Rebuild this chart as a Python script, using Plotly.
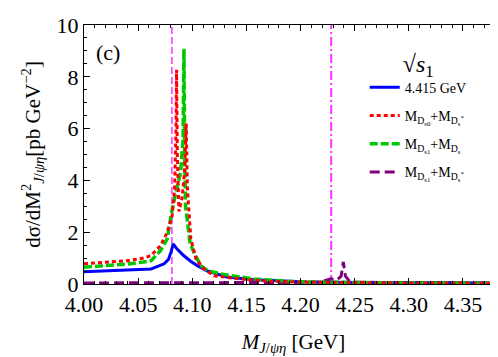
import plotly.graph_objects as go

# ---- data ----
blue_x = [4.000, 4.020, 4.040, 4.062, 4.074, 4.078, 4.0805, 4.0824, 4.086, 4.092, 4.0985, 4.1046,
          4.114, 4.132, 4.157, 4.188, 4.206, 4.25, 4.30, 4.35, 4.387]
blue_y = [0.47, 0.50, 0.53, 0.58, 0.78, 0.95, 1.25, 1.55, 1.35, 1.10, 0.88, 0.71,
          0.50, 0.27, 0.16, 0.10, 0.08, 0.06, 0.05, 0.04, 0.04]

red_x = [4.000, 4.020, 4.040, 4.055, 4.062, 4.0706, 4.0769, 4.0815, 4.0837, 4.0850, 4.0855,
         4.0862, 4.0877, 4.0905, 4.0928, 4.0944, 4.0955, 4.0987, 4.1034, 4.111, 4.120, 4.145,
         4.173, 4.21, 4.25, 4.30, 4.387]
red_y = [0.78, 0.83, 0.90, 1.00, 1.10, 1.48, 2.00, 2.65, 3.70, 6.00, 8.27,
         5.00, 2.80, 3.30, 4.30, 6.20, 3.70, 1.74, 0.97, 0.58, 0.32, 0.19,
         0.10, 0.07, 0.05, 0.04, 0.03]

green_x = [4.000, 4.020, 4.040, 4.055, 4.062, 4.0706, 4.0769, 4.0815, 4.0845, 4.0892, 4.0915,
           4.0923, 4.0930, 4.0938, 4.0960, 4.098, 4.1015, 4.1077, 4.114, 4.126, 4.157, 4.188,
           4.22, 4.26, 4.30, 4.387]
green_y = [0.65, 0.70, 0.77, 0.85, 0.90, 1.29, 1.74, 2.90, 3.42, 4.30, 5.60,
           9.08, 5.00, 3.00, 2.26, 1.55, 1.23, 0.71, 0.52, 0.39, 0.19, 0.10,
           0.07, 0.05, 0.04, 0.03]

purple_x = [4.000, 4.05, 4.10, 4.15, 4.20, 4.218, 4.2244, 4.228, 4.233, 4.2375, 4.2395, 4.2415,
            4.245, 4.25, 4.30, 4.387]
purple_y = [0.04, 0.04, 0.05, 0.05, 0.06, 0.08, 0.17, 0.20, 0.14, 0.30, 0.85, 0.30,
            0.12, 0.07, 0.05, 0.04]

thresholds = [4.0812, 4.2283]   # vertical reference lines (dashed, dash-dot)

names = ["4.415 GeV",
         "M<sub>D<sub>s0</sub></sub>+M<sub>D<sub>s</sub><sup>*</sup></sub>",
         "M<sub>D<sub>s1</sub></sub>+M<sub>D<sub>s</sub></sub>",
         "M<sub>D<sub>s1</sub></sub>+M<sub>D<sub>s</sub><sup>*</sup></sub>"]

x_range = [4.0, 4.387]
y_range = [0, 10]
x_ticks = [4.00, 4.05, 4.10, 4.15, 4.20, 4.25, 4.30, 4.35]
y_ticks = [0, 2, 4, 6, 8, 10]

FONT = "Liberation Serif"
fig = go.Figure()

# vertical threshold lines
fig.add_trace(go.Scatter(x=[thresholds[0], thresholds[0]], y=y_range, mode="lines",
                         line=dict(color="#ff33ff", width=1.5, dash="7px,3px"),
                         showlegend=False, hoverinfo="skip"))
fig.add_trace(go.Scatter(x=[thresholds[1], thresholds[1]], y=y_range, mode="lines",
                         line=dict(color="#ff33ff", width=2, dash="9px,3px,2px,3px"),
                         showlegend=False, hoverinfo="skip"))

fig.add_trace(go.Scatter(x=purple_x, y=purple_y, mode="lines", name=names[3], legendrank=4,
                         legendgroup="d", line=dict(color="#800080", width=3, dash="10px,5px")))
fig.add_trace(go.Scatter(x=blue_x, y=blue_y, mode="lines", name=names[0], legendrank=1,
                         legendgroup="a", line=dict(color="#0000ff", width=3)))
fig.add_trace(go.Scatter(x=green_x, y=green_y, mode="lines", name=names[2], legendrank=3,
                         legendgroup="c", line=dict(color="#00c800", width=3.5, dash="8px,3px")))
fig.add_trace(go.Scatter(x=red_x, y=red_y, mode="lines", name=names[1], legendrank=2,
                         legendgroup="b", line=dict(color="#ff0000", width=3, dash="4px,3px")))

axis_common = dict(showline=True, linecolor="black", linewidth=1.2, mirror="allticks",
                   ticks="inside", tickcolor="black", ticklen=6, showgrid=False, zeroline=False,
                   automargin=False,
                   tickfont=dict(family=FONT, size=22, color="black"))

fig.update_xaxes(range=x_range, tickvals=x_ticks, ticktext=[f"{v:.2f}" for v in x_ticks],
                 minor=dict(dtick=0.01, tick0=4.0, ticks="inside", ticklen=3, tickcolor="black"),
                 title=dict(text="<i>M</i><sub><i>J</i>/<i>ψη</i></sub> [GeV]",
                            font=dict(family=FONT, size=21, color="black"), standoff=18),
                 **axis_common)
fig.update_yaxes(range=y_range, tickvals=y_ticks,
                 minor=dict(dtick=0.5, tick0=0, ticks="inside", ticklen=3, tickcolor="black"),
                 title=dict(text="dσ/dM<sup>2</sup><sub><i>J</i>/<i>ψη</i></sub>[pb GeV<sup>−2</sup>]",
                            font=dict(family=FONT, size=21, color="black"), standoff=10),
                 **axis_common)

fig.add_annotation(text="(c)", xref="paper", yref="paper", x=0.057, y=0.892,
                   xanchor="center", yanchor="middle",
                   showarrow=False, font=dict(family=FONT, size=22, color="black"))

fig.update_layout(
    template="none",
    width=498, height=357,
    margin=dict(l=76, r=3, t=17, b=81),
    paper_bgcolor="white", plot_bgcolor="white",
    font=dict(family=FONT, color="black"),
    legend=dict(x=0.67, y=0.94, xanchor="left", yanchor="top",
                bgcolor="rgba(0,0,0,0)", borderwidth=0, tracegroupgap=7,
                font=dict(family=FONT, size=14, color="black"),
                title=dict(text="√<i>s</i><sub>1</sub>", side="top center",
                           font=dict(family=FONT, size=24, color="black"))),
)

fig.write_html("out.html")
